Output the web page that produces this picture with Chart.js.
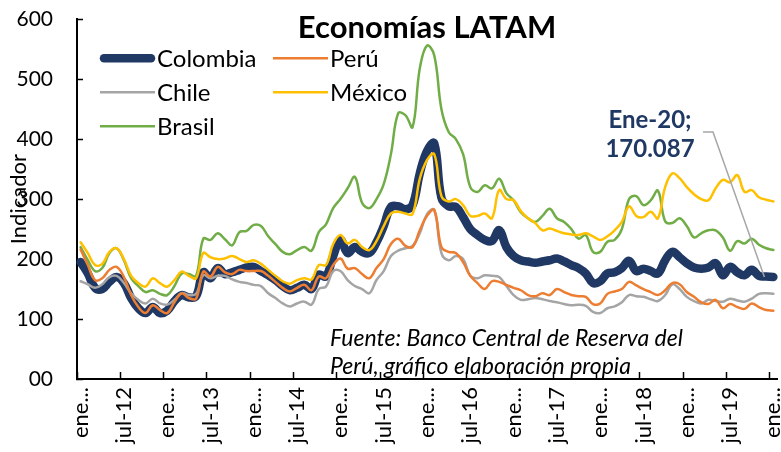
<!DOCTYPE html>
<html>
<head>
<meta charset="utf-8">
<script src="https://cdn.jsdelivr.net/npm/chart.js@4.4.0/dist/chart.umd.min.js"></script>
<style>
  body { margin: 0; background: #fff; }
</style>
</head>
<body>
<canvas id="chart" width="781" height="452"></canvas>
<script>
// Categories: monthly, ene-12 .. ene-20
const monthNames = ["ene", "feb", "mar", "abr", "may", "jun", "jul", "ago", "sep", "oct", "nov", "dic"];
const years = [12, 13, 14, 15, 16, 17, 18, 19, 20];
const categories = [];
years.forEach(y => monthNames.forEach(m => categories.push(`${m}-${y}`)));
categories.length = 97;

const yTickLabels = ["00", "100", "200", "300", "400", "500", "600"];

const colombia = [
  195, 176, 152, 150, 162, 170, 160, 135, 118, 110, 120, 110,
  114, 130, 140, 136, 138, 178, 168, 185, 175, 178, 182, 186,
  187, 180, 173, 165, 155, 148, 152, 157, 150, 174, 171, 205,
  232, 210, 220, 212, 210, 228, 255, 287, 288, 283, 290, 343,
  380, 393, 302, 288, 287, 270, 250, 240, 232, 230, 248, 220,
  205, 198, 196, 194, 196, 198, 201, 196, 190, 185, 176, 160,
  163, 176, 178, 185, 197, 180, 184, 180, 176, 198, 212, 203,
  193, 186, 184, 186, 193, 173, 187, 178, 173, 182, 172, 171,
  170.087
];
const peru = [
  216, 190, 165, 168, 182, 187, 170, 140, 120, 110, 123, 115,
  110, 128, 143, 135, 134, 179, 171, 187, 178, 175, 182, 180,
  180, 180, 172, 162, 152, 146, 152, 157, 148, 171, 168, 190,
  201, 184, 185, 175, 168, 185, 200, 225, 234, 222, 220, 248,
  272, 282, 220, 212, 210, 195, 172, 160, 150, 163, 162, 157,
  152, 148, 140, 138, 143, 140, 150, 145, 140, 138, 137, 125,
  126, 142, 146, 150, 162, 156, 150, 145, 140, 148, 160, 158,
  145, 137, 128, 125, 132, 118, 125, 120, 117, 126, 120, 115,
  114
];
const chile = [
  163, 158, 152, 158, 170, 172, 160, 143, 132, 126, 134, 126,
  124, 132, 143, 140, 142, 173, 168, 172, 172, 166, 162, 160,
  157, 155, 143, 135, 126, 121, 126, 129, 124, 150, 154, 180,
  180, 165, 155, 150, 143, 165, 180, 205, 214, 218, 222, 243,
  275, 282, 210, 198, 205, 200, 172, 168, 173, 172, 170, 155,
  140, 132, 133, 135, 133, 130, 128, 125, 123, 124, 122, 112,
  110, 118, 121, 128, 140, 138, 137, 133, 130, 140, 158, 150,
  137, 130, 126, 132, 130, 129, 134, 131, 129, 134, 142, 143,
  142
];
const mexico = [
  228, 210, 190, 192, 212, 218, 200, 172, 160, 154, 168, 160,
  154, 165, 179, 172, 168, 210, 203, 200, 201, 205, 200, 195,
  198, 192, 182, 172, 163, 159, 165, 168, 166, 190, 190, 225,
  240, 226, 232, 220, 215, 230, 255, 276, 279, 276, 275, 334,
  365, 375, 305, 296, 300, 290, 272, 272, 276, 268, 315, 300,
  298, 280, 268, 260, 248, 251, 247, 243, 241, 240, 243, 238,
  232, 238, 248, 262, 288, 272, 270, 279, 268, 320, 343, 335,
  320, 308, 300, 298, 318, 332, 328, 340, 312, 315, 303, 299,
  296
];
const brasil = [
  220, 198, 180, 185, 210, 218, 198, 168, 155, 145, 148, 142,
  140, 155, 176, 175, 172, 234, 232, 243, 233, 223, 245, 247,
  257, 255, 238, 225, 212, 208, 215, 220, 214, 245, 258, 285,
  300, 318, 337, 294, 285, 300, 325, 375, 443, 440, 420, 518,
  556, 540, 450, 412, 400, 375, 320, 312, 323, 318, 334, 310,
  298, 278, 268, 262, 272, 284, 268, 262, 250, 234, 240, 212,
  212, 229, 232, 250, 300, 305, 290, 298, 314, 263, 260, 268,
  255, 236, 243, 248, 248, 236, 214, 230, 226, 234, 224, 218,
  215
];

const sourceNote = ["Fuente: Banco Central de Reserva del", "Perú, gráfico elaboración propia"];

/*
 * Legend, source note and callout drawn inside the plot
 */
const overlay = {
  id: "overlay",
  afterDatasetsDraw(chart) {
    const { ctx, chartArea } = chart;
    ctx.save();

    // two-column legend
    chart.data.datasets.forEach((ds, i) => {
      const x = chartArea.left + 23 + (i % 2) * 173;
      const y = chartArea.top + 39 + Math.floor(i / 2) * 34;
      ctx.strokeStyle = ds.borderColor;
      ctx.lineWidth = ds.borderWidth;
      ctx.lineCap = i === 0 ? "round" : "butt";
      ctx.beginPath();
      ctx.moveTo(x + (i === 0 ? 4 : 0), y);
      ctx.lineTo(x + (i === 0 ? 51 : 55), y);
      ctx.stroke();
      ctx.fillStyle = "#000";
      ctx.font = "24px Lato";
      ctx.textBaseline = "middle";
      ctx.textAlign = "left";
      ctx.fillText(ds.label, x + 57, y + 1);
    });

    // source note
    ctx.font = "italic 23px Lato";
    ctx.textBaseline = "alphabetic";
    ctx.fillStyle = "#000";
    sourceNote.forEach((line, i) => ctx.fillText(line, 330, 346 + i * 28));

    // callout for the last Colombia value
    const last = colombia.length - 1;
    const pt = chart.getDatasetMeta(0).data[last];
    ctx.strokeStyle = "#A6A6A6";
    ctx.lineWidth = 1.5;
    ctx.lineCap = "butt";
    ctx.beginPath();
    ctx.moveTo(703, 132);
    ctx.lineTo(713, 132);
    ctx.lineTo(pt.x - 9, pt.y);
    ctx.stroke();

    const cat = categories[last];
    ctx.fillStyle = "#1F3864";
    ctx.font = "bold 24px Lato";
    ctx.textAlign = "center";
    ctx.fillText(cat.charAt(0).toUpperCase() + cat.slice(1) + ";", 650, 128);
    ctx.fillText(colombia[last].toFixed(3), 650, 157);

    ctx.restore();
  }
};

Chart.defaults.font.family = "Lato";
Chart.defaults.color = "#000";

const line = (label, data, color, width, order) => ({
  label, data,
  borderColor: color,
  backgroundColor: color,
  borderWidth: width,
  pointRadius: 0,
  tension: 0.4,
  fill: false,
  order,
  borderCapStyle: "round",
  borderJoinStyle: "round"
});

new Chart(document.getElementById("chart"), {
  type: "line",
  data: {
    labels: categories,
    datasets: [
      line("Colombia", colombia, "#203864", 8.5, 1),
      line("Perú", peru, "#ED7D31", 2.5, 0),
      line("Chile", chile, "#A5A5A5", 2.5, 0),
      line("México", mexico, "#FFC000", 2.5, 0),
      line("Brasil", brasil, "#70AD47", 2.5, 0)
    ]
  },
  options: {
    responsive: false,
    animation: false,
    layout: { padding: { left: 0, right: 4, top: 0, bottom: 0 } },
    plugins: {
      legend: { display: false },
      tooltip: { enabled: false },
      title: {
        display: true,
        fullSize: false,
        text: "Economías LATAM",
        font: { size: 31, weight: "bold" },
        color: "#000",
        padding: { top: 9, bottom: -27 }
      }
    },
    scales: {
      x: {
        offset: true,
        grid: {
          offset: true,
          drawOnChartArea: false,
          tickLength: -7,
          tickWidth: 1.5,
          tickColor: c => (c.index % 6 === 0 ? "#000" : "rgba(0,0,0,0)")
        },
        border: { color: "#000", width: 2 },
        ticks: {
          autoSkip: false,
          minRotation: 90,
          maxRotation: 90,
          padding: 15,
          font: { size: 22 },
          callback: (v, i) => {
            if (i % 6) return "";
            const c = categories[i];
            return c.startsWith("ene") ? "ene..." : c;
          }
        },
        afterFit: s => { s.height = 73; s.paddingLeft = 0; s.paddingRight = 0; }
      },
      y: {
        min: 0,
        max: 600,
        grid: {
          drawOnChartArea: false,
          tickLength: -6,
          tickWidth: 1.5,
          tickColor: "#000"
        },
        border: { color: "#000", width: 2 },
        ticks: {
          stepSize: 100,
          padding: 30,
          font: { size: 21 },
          callback: v => yTickLabels[v / 100]
        },
        title: {
          display: true,
          text: "Indicador",
          font: { size: 22 },
          padding: { top: 6, bottom: 0 }
        },
        afterFit: s => { s.width = 77; s.paddingTop = 0; s.paddingBottom = 0; }
      }
    }
  },
  plugins: [overlay]
});
</script>
</body>
</html>
